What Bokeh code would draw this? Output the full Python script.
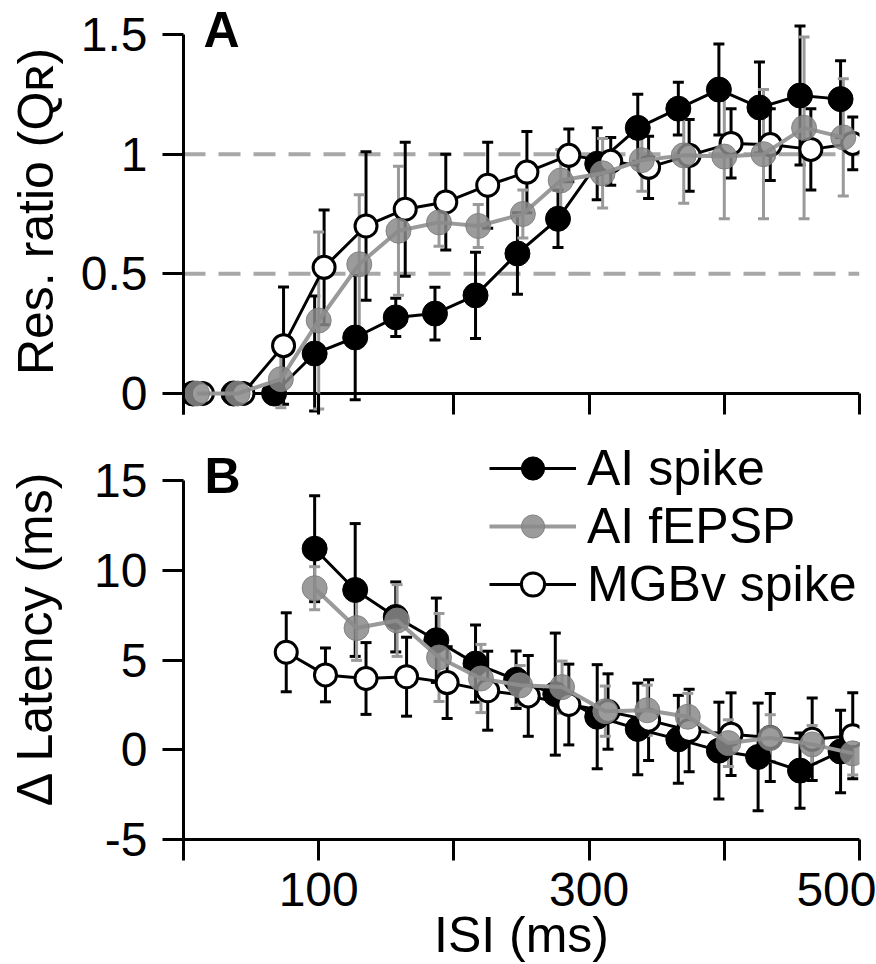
from bokeh.plotting import figure
from bokeh.layouts import column
from bokeh.models import (ColumnDataSource, Whisker, TeeHead, Span, Label, Legend,
                          LegendItem, FixedTicker, Range1d)
from bokeh.embed import file_html
from bokeh.resources import INLINE

# ---------------- data ----------------
# Panel A: response ratio Q_R vs ISI (ms)
a_spike_x = [7, 37, 67, 97, 127, 157, 186, 216, 247, 277, 306, 336, 366, 396, 426, 456, 486]
a_spike_y = [0, 0, 0, 0.167, 0.234, 0.318, 0.334, 0.41, 0.585, 0.73, 0.96, 1.11, 1.19, 1.27, 1.195, 1.245, 1.23]
a_spike_e = [0, 0, 0.03, 0.24, 0.26, 0.08, 0.11, 0.18, 0.17, 0.12, 0.15, 0.14, 0.11, 0.19, 0.19, 0.29, 0.16]

a_fepsp_x = [10, 40, 72, 100, 130, 159, 189, 218, 251, 279, 310, 339, 370, 400, 429, 459, 488]
a_fepsp_y = [0, 0, 0.06, 0.305, 0.54, 0.68, 0.715, 0.70, 0.75, 0.89, 0.92, 0.975, 0.995, 0.99, 1.0, 1.11, 1.07]
a_fepsp_e = [0, 0, 0.12, 0.37, 0.29, 0.27, 0.10, 0.09, 0.10, 0.13, 0.145, 0.13, 0.20, 0.26, 0.27, 0.38, 0.245]

a_mgbv_x = [14, 44, 74, 104, 135, 164, 194, 225, 254, 285, 316, 344, 374, 405, 434, 464, 495]
a_mgbv_y = [0, 0, 0.20, 0.527, 0.70, 0.77, 0.80, 0.87, 0.925, 0.995, 0.97, 0.945, 0.995, 1.045, 1.04, 1.02, 1.045]
a_mgbv_e = [0, 0, 0.245, 0.24, 0.31, 0.28, 0.20, 0.18, 0.17, 0.11, 0.10, 0.13, 0.15, 0.145, 0.15, 0.17, 0.11]

ratio_refs = [0.5, 1.0]

# Panel B: latency change (ms) vs ISI (ms)
b_spike_x = [97, 127, 157, 187, 216, 246, 275, 306, 336, 366, 396, 425, 456, 486]
b_spike_y = [11.2, 8.9, 7.4, 6.1, 4.8, 3.9, 3.1, 1.84, 1.16, 0.58, -0.05, -0.4, -1.16, -0.1]
b_spike_e = [2.95, 3.7, 1.95, 2.35, 2.15, 1.6, 3.4, 2.9, 2.55, 2.45, 2.7, 3.0, 2.1, 2.3]

b_fepsp_x = [97, 128, 158, 189, 220, 249, 280, 312, 343, 373, 403, 434, 465, 495]
b_fepsp_y = [9.0, 6.78, 7.2, 5.14, 3.97, 3.59, 3.49, 2.15, 2.2, 1.84, 0.37, 0.65, 0.3, -0.2]
b_fepsp_e = [1.2, 1.8, 2.0, 2.45, 1.9, 1.1, 1.45, 1.4, 1.4, 1.3, 1.3, 1.3, 1.05, 1.2]

b_mgbv_x = [76, 105, 135, 165, 195, 225, 255, 285, 314, 344, 374, 405, 434, 465, 495]
b_mgbv_y = [5.43, 4.17, 3.97, 4.07, 3.74, 3.29, 3.0, 2.52, 2.13, 1.65, 1.07, 0.87, 0.68, 0.58, 0.78]
b_mgbv_e = [2.2, 1.5, 2.0, 2.2, 2.0, 2.2, 2.25, 2.25, 2.1, 2.25, 2.3, 2.3, 2.45, 2.3, 2.4]

series_labels = ["AI spike", "AI fEPSP", "MGBv spike"]
x_ticks = [0, 100, 200, 300, 400, 500]
x_tick_labels = ["", "100", "", "300", "", "500"]
a_ticks = [0, 0.5, 1, 1.5]
a_tick_labels = ["0", "0.5", "1", "1.5"]
b_ticks = [-5, 0, 5, 10, 15]
b_tick_labels = ["-5", "0", "5", "10", "15"]

FONT = "Liberation Sans"
GRAY_FILL = "#8a8a8a"
GRAY_LINE = "#9a9a9a"
TICK = 21          # tick length, px
FRAME_W, FRAME_H = 676, 359


def style_axes(p):
    for ax in p.axis:
        ax.axis_line_width = 3
        ax.axis_line_color = "black"
        ax.major_tick_line_width = 3
        ax.major_tick_line_color = "black"
        ax.major_tick_out = TICK
        ax.major_tick_in = 0
        ax.minor_tick_line_color = None
        ax.major_label_text_font = FONT
        ax.major_label_text_font_size = "48px"
        ax.major_label_text_color = "black"
        ax.axis_label_text_font = FONT
        ax.axis_label_text_font_size = "50px"
        ax.axis_label_text_font_style = "normal"
        ax.axis_label_text_color = "black"
    p.grid.visible = False
    p.outline_line_color = None


def add_series(p, xs, ys, es, kind):
    src = ColumnDataSource(dict(x=xs, y=ys))
    wx = [x for x, e in zip(xs, es) if e > 0]
    wu = [y + e for y, e in zip(ys, es) if e > 0]
    wl = [y - e for y, e in zip(ys, es) if e > 0]
    wsrc = ColumnDataSource(dict(x=wx, upper=wu, lower=wl))
    col = GRAY_LINE if kind == "fepsp" else "black"
    head_u = TeeHead(size=11, line_color=col, line_width=3)
    head_l = TeeHead(size=11, line_color=col, line_width=3)
    w = Whisker(source=wsrc, base="x", upper="upper", lower="lower", dimension="height",
                line_color=col, line_width=3, upper_head=head_u, lower_head=head_l,
                level="underlay")
    p.add_layout(w)
    if kind == "spike":
        ln = p.line("x", "y", source=src, line_color="black", line_width=3)
        sc = p.scatter("x", "y", source=src, size=25, fill_color="black",
                       line_color="black", line_width=1)
    elif kind == "fepsp":
        ln = p.line("x", "y", source=src, line_color=GRAY_LINE, line_width=4)
        sc = p.scatter("x", "y", source=src, size=25, fill_color=GRAY_FILL, fill_alpha=0.85,
                       line_color="#7a7a7a", line_alpha=0.85, line_width=1)
    else:
        ln = p.line("x", "y", source=src, line_color="black", line_width=3)
        sc = p.scatter("x", "y", source=src, size=22, fill_color="white",
                       line_color="black", line_width=3)
    return ln, sc


x_range = Range1d(0, 500)

# ---------------- Panel A ----------------
a_top_pad = 26                         # free frame above 1.5 for the panel letter
a_lo = -TICK * 1.5 / FRAME_H           # room below 0 for the x ticks / error bars
a_hi = 1.5 + a_top_pad * 1.5 / FRAME_H
pA = figure(frame_width=FRAME_W, frame_height=FRAME_H + TICK + a_top_pad, x_range=x_range,
            y_range=Range1d(a_lo, a_hi),
            output_backend="svg", toolbar_location=None,
            min_border_left=183, min_border_right=17, min_border_top=34 - a_top_pad,
            min_border_bottom=16)
style_axes(pA)
pA.add_layout(Span(location=0, dimension="width", line_color="black", line_width=3,
                   level="underlay"))
for lev in ratio_refs:
    pA.add_layout(Span(location=lev, dimension="width", line_color="#a8a8a8",
                       line_width=4, line_dash="22 13", level="underlay"))
add_series(pA, a_spike_x, a_spike_y, a_spike_e, "spike")
add_series(pA, a_mgbv_x, a_mgbv_y, a_mgbv_e, "mgbv")
add_series(pA, a_fepsp_x, a_fepsp_y, a_fepsp_e, "fepsp")
pA.xaxis.ticker = FixedTicker(ticks=x_ticks)
pA.xaxis.axis_line_color = None
pA.xaxis.major_tick_out = 0
pA.xaxis.major_tick_in = TICK
pA.xaxis.major_label_overrides = {t: "" for t in x_ticks}
pA.xaxis.major_label_text_font_size = "0px"
pA.xaxis.major_label_standoff = 0
pA.yaxis.ticker = FixedTicker(ticks=a_ticks)
pA.yaxis.bounds = (a_lo, 1.5)
pA.yaxis.major_label_overrides = dict(zip(a_ticks, a_tick_labels))
pA.yaxis.major_label_standoff = 15
pA.yaxis.axis_label = "Res. ratio (Q\u0280)"
pA.yaxis.axis_label_standoff = 14
pA.add_layout(Label(x=0, y=1.5, x_offset=20, y_offset=5, text="A", text_font=FONT,
                    text_font_size="50px", text_font_style="bold", text_color="black",
                    text_baseline="alphabetic", text_align="left"))

# ---------------- Panel B ----------------
b_top_pad = 44  # px of free frame above the 15 tick (legend / panel letter)
b_hi = 15 + b_top_pad * 20 / FRAME_H
pB = figure(frame_width=FRAME_W, frame_height=FRAME_H + b_top_pad, x_range=x_range,
            y_range=Range1d(-5, b_hi),
            output_backend="svg", toolbar_location=None,
            min_border_left=183, min_border_right=17, min_border_top=6, min_border_bottom=20)
style_axes(pB)
l1, s1 = add_series(pB, b_spike_x, b_spike_y, b_spike_e, "spike")
l3, s3 = add_series(pB, b_mgbv_x, b_mgbv_y, b_mgbv_e, "mgbv")
l2, s2 = add_series(pB, b_fepsp_x, b_fepsp_y, b_fepsp_e, "fepsp")
pB.xaxis.ticker = FixedTicker(ticks=x_ticks)
pB.xaxis.major_label_overrides = dict(zip(x_ticks, x_tick_labels))
pB.xaxis.major_label_text_align = "right"
pB.xaxis.major_label_standoff = 12
pB.xaxis.axis_label = "ISI (ms)"
pB.xaxis.axis_label_standoff = -2
pB.yaxis.ticker = FixedTicker(ticks=b_ticks)
pB.yaxis.bounds = (-5, 15)
pB.yaxis.major_label_overrides = dict(zip(b_ticks, b_tick_labels))
pB.yaxis.major_label_standoff = 15
pB.yaxis.axis_label = "\u0394 Latency (ms)"
pB.yaxis.axis_label_standoff = 28
pB.add_layout(Label(x=0, y=15, x_offset=21, y_offset=5, text="B", text_font=FONT,
                    text_font_size="50px", text_font_style="bold", text_color="black",
                    text_baseline="alphabetic", text_align="left"))

legend = Legend(items=[LegendItem(label=series_labels[0], renderers=[l1, s1]),
                       LegendItem(label=series_labels[1], renderers=[l2, s2]),
                       LegendItem(label=series_labels[2], renderers=[l3, s3])],
                location=(306, 226), glyph_width=87, glyph_height=58, label_height=54,
                label_standoff=11, padding=0, spacing=-13, margin=0,
                label_text_font=FONT, label_text_font_size="50px", label_text_color="black",
                label_text_line_height=1.0,
                border_line_color=None, background_fill_alpha=0)
pB.add_layout(legend)

layout = column(pA, pB, spacing=0)
open("out.html", "w").write(file_html(layout, INLINE))
